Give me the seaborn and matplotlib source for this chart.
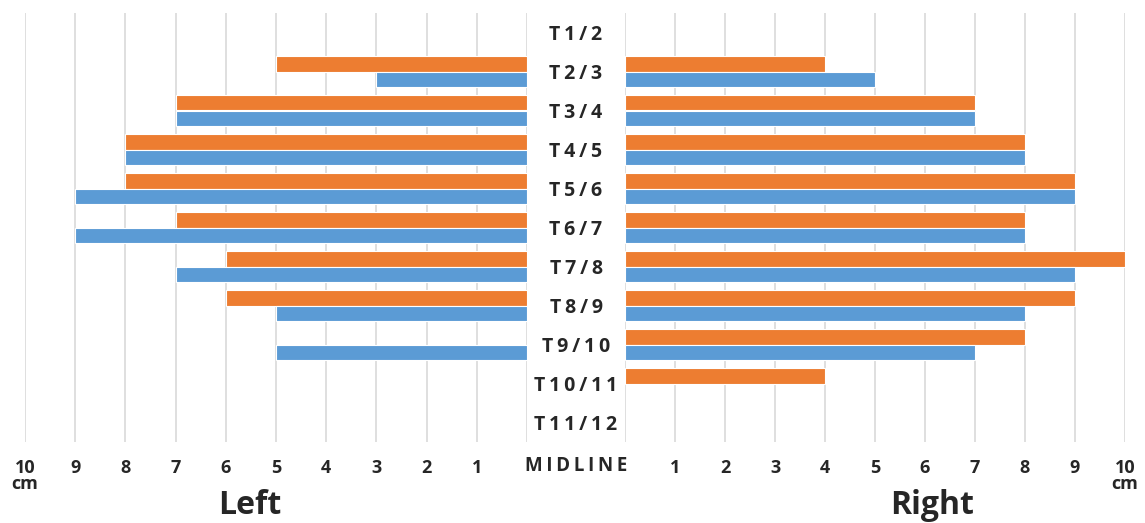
import seaborn as sns
import matplotlib
matplotlib.use('Agg')
import matplotlib.pyplot as plt
import matplotlib.transforms as mtransforms
import numpy as np
import pandas as pd

levels = ['T1/2', 'T2/3', 'T3/4', 'T4/5', 'T5/6', 'T6/7',
          'T7/8', 'T8/9', 'T9/10', 'T10/11', 'T11/12']
nan = np.nan
left_orange = [nan, 5, 7, 8, 8, 7, 6, 6, nan, nan, nan]
left_blue = [nan, 3, 7, 8, 9, 9, 7, 5, 5, nan, nan]
right_orange = [nan, 4, 7, 8, 9, 8, 10, 9, 8, 4, nan]
right_blue = [nan, 5, 7, 8, 9, 8, 9, 8, 7, nan, nan]

series = ['Group 1', 'Group 2']
colors = ['#ED7D31', '#5B9BD5']
ticks = list(range(0, 11))
tick_labels = [''] + [str(i) for i in range(1, 10)] + ['10\ncm']


def long_df(orange, blue):
    rows = []
    for lev, o, b in zip(levels, orange, blue):
        rows.append((lev, series[0], o))
        rows.append((lev, series[1], b))
    d = pd.DataFrame(rows, columns=['level', 'series', 'cm'])
    return d.dropna()


df_left = long_df(left_orange, left_blue)
df_right = long_df(right_orange, right_blue)

sns.set_style('white')
plt.rcParams['font.family'] = ['Open Sans', 'DejaVu Sans']

W, H = 1145, 523
fig = plt.figure(figsize=(W / 100, H / 100), dpi=100)
top, bottom = 13, 442
ax_l = fig.add_axes([25 / W, (H - bottom) / H, 502 / W, (bottom - top) / H])
ax_r = fig.add_axes([625 / W, (H - bottom) / H, 500 / W, (bottom - top) / H])

for ax, d in [(ax_l, df_left), (ax_r, df_right)]:
    sns.barplot(data=d, x='cm', y='level', hue='series', order=levels,
                hue_order=series, palette=colors, saturation=1, orient='h',
                width=0.78, errorbar=None, edgecolor='white', linewidth=0.8,
                legend=False, ax=ax, zorder=3)
    ax.set_ylim(10.5, -0.5)
    ax.set_xticks(ticks)
    ax.set_xticklabels(tick_labels, fontsize=13, fontweight='bold')
    for lab in ax.get_xticklabels():
        lab.set_linespacing(0.85)
    ax.tick_params(axis='x', length=0, pad=12)
    ax.set_yticks([])
    ax.set_xlabel('')
    ax.set_ylabel('')
    ax.grid(axis='x', color='#D9D9D9', linewidth=1.2, zorder=0)
    ax.set_axisbelow(True)
    for s in ax.spines.values():
        s.set_visible(False)

ax_l.set_xlim(10, 0)
ax_r.set_xlim(0, 10)

spaced = lambda t: '\u2009'.join(t)
trans = mtransforms.blended_transform_factory(fig.transFigure, ax_r.transData)
for i, lev in enumerate(levels):
    fig.text(576 / W, i + 0.06, spaced(lev), transform=trans, ha='center',
             va='center', fontsize=14, fontweight='bold')

fig.text(576 / W, 1 - 466 / H, spaced('MIDLINE'), ha='center', va='center',
         fontsize=13.5, fontweight='bold')
fig.text(250 / W, 1 - 506 / H, 'Left', ha='center', va='center',
         fontsize=23, fontweight='bold')
fig.text(932 / W, 1 - 506 / H, 'Right', ha='center', va='center',
         fontsize=23, fontweight='bold')

fig.savefig('out.png', dpi=100)
